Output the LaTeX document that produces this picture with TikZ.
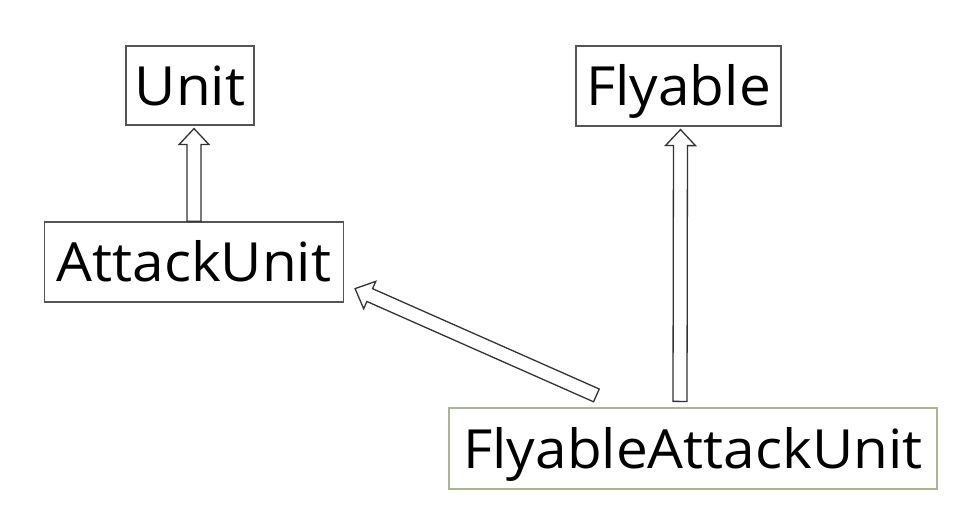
\documentclass[tikz,border=0pt]{standalone}
\usepackage{fontspec}
\setmainfont[FakeStretch=1.05]{Open Sans}
\usetikzlibrary{calc}
\definecolor{boxgray}{HTML}{555555}
\definecolor{boxgreen}{HTML}{A9B690}
\definecolor{arrowgray}{HTML}{333333}
\tikzset{
  cls/.style={draw=boxgray, line width=1.2pt, inner sep=0pt, text height=46pt, text depth=6pt,
    font=\fontsize{54}{60}\selectfont},
  blockarrow/.style={draw=arrowgray, line width=1.3pt, fill=white, line join=miter}
}
% #1 tail, #2 tip
\newcommand{\blockarrow}[2]{%
  \draw[blockarrow]
    ($(#1)!7pt!-90:(#2)$) --
    ($(#2)!16pt!(#1)!7pt!-90:(#2)$) --
    ($(#2)!16pt!(#1)!15pt!-90:(#2)$) --
    (#2) --
    ($(#2)!16pt!(#1)!15pt!90:(#2)$) --
    ($(#2)!16pt!(#1)!7pt!90:(#2)$) --
    ($(#1)!7pt!90:(#2)$) -- cycle;
}
\begin{document}
\begin{tikzpicture}[x=1pt,y=-1pt]
\useasboundingbox (0,0) rectangle (963,518);
\node[cls, minimum width=128pt, minimum height=79pt] (unit) at (190,85.5) {Unit};
\node[cls, minimum width=205pt, minimum height=80pt] (fly) at (678.5,86) {Flyable};
\node[cls, minimum width=299pt, minimum height=80pt] (attack) at (194,262) {AttackUnit};
\node[cls, draw=boxgreen, minimum width=488pt, minimum height=81pt] (fau) at (693,448.5) {FlyableAttackUnit};
\coordinate (u1) at (attack.north);
\coordinate (u2) at ($(unit.south)+(4,3)$);
\coordinate (f1) at ($(fau.north)+(-13,-6)$);
\coordinate (f2) at ($(fly.south)+(2,3)$);
\coordinate (d1) at ($(fau.north west)+(148,-12)$);
\coordinate (d2) at ($(attack.south east)+(11,-14)$);
\blockarrow{u1}{u2}
\blockarrow{f1}{f2}
\blockarrow{d1}{d2}
\end{tikzpicture}
\end{document}
